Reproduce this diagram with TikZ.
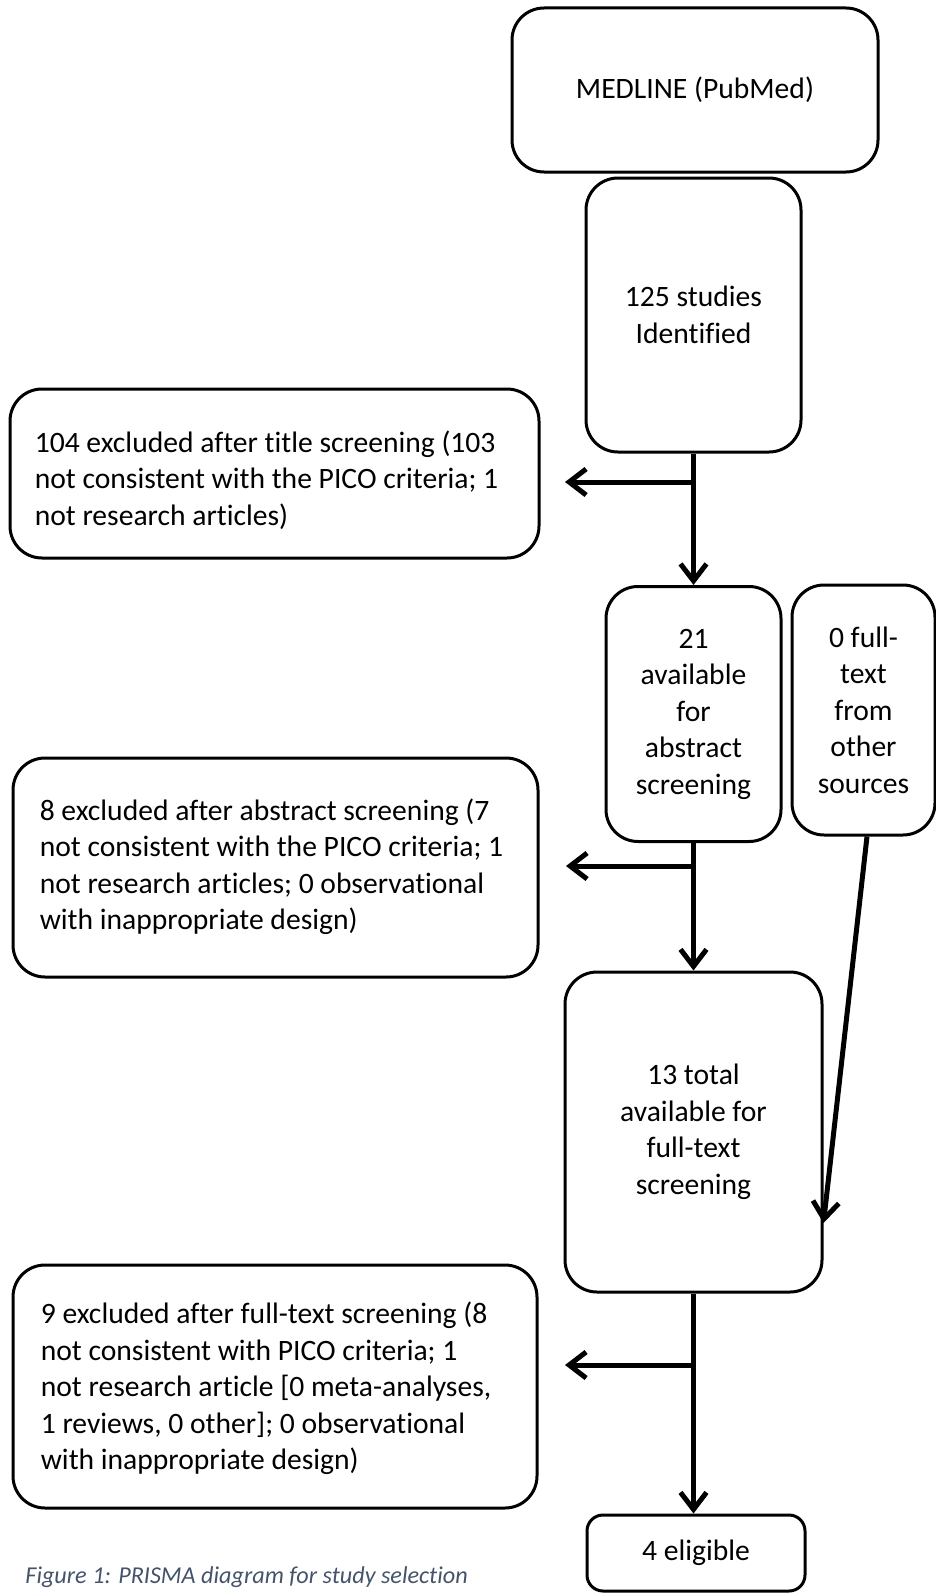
\documentclass[tikz,border=0pt]{standalone}
\usepackage{fontspec}
\setmainfont{Carlito}[Ligatures=NoCommon]
\usetikzlibrary{arrows.meta}
\definecolor{capcol}{HTML}{44546A}
\newcommand{\leftlines}[3]{\raisebox{-#2}[\height][\depth]{\begin{tabular}{@{}l@{}}#3\end{tabular}}\hspace*{#1}}
\begin{document}
\begin{tikzpicture}[x=0.5pt,y=-0.5pt,
  box/.style={draw, line width=1.5pt, rounded corners=16pt, font=\fontsize{14.8pt}{18.25pt}\selectfont, inner sep=0pt},
  cbox/.style={box, align=center},
  lbox/.style={box},
  conn/.style={line width=2.5pt, -{Straight Barb[length=8.5pt,width=13pt]}}
]
\useasboundingbox (0,0) rectangle (936,1595);
\node[cbox, minimum width=183pt, minimum height=82pt] (med) at (695,90) {MEDLINE (PubMed)};
\node[cbox, minimum width=107.5pt, minimum height=137pt] (s125) at (693.5,315) {125 studies\\Identified};
\node[lbox, minimum width=264.5pt, minimum height=84.5pt] (ex1) at (274.5,473.5) {\leftlines{8pt}{4pt}{104 excluded after title screening (103\\not consistent with the PICO criteria; 1\\not research articles)}};
\node[cbox, minimum width=87.5pt, minimum height=127.5pt] (s21) at (693.5,714) {21\\available\\for\\abstract\\screening};
\node[cbox, minimum width=71.5pt, minimum height=125pt] (oth) at (863.5,710) {0 full-\\text\\from\\other\\sources};
\node[lbox, minimum width=262.5pt, minimum height=109.5pt] (ex2) at (275.5,867.5) {\leftlines{4pt}{0pt}{8 excluded after abstract screening (7\\not consistent with the PICO criteria; 1\\not research articles; 0 observational\\with inappropriate design)}};
\node[cbox, minimum width=128.5pt, minimum height=160pt] (s13) at (693.5,1132) {13 total\\available for\\full-text\\screening};
\node[lbox, minimum width=262pt, minimum height=121.5pt] (ex3) at (275,1386.5) {\leftlines{9pt}{1.5pt}{9 excluded after full-text screening (8\\not consistent with PICO criteria; 1\\not research article [0 meta-analyses,\\1 reviews, 0 other]; 0 observational\\with inappropriate design)}};
\node[box, rounded corners=8pt, minimum width=109pt, minimum height=38pt] (elig) at (696,1553) {4 eligible};
\node[anchor=west, font=\fontsize{12.1pt}{14pt}\selectfont\itshape, text=capcol, inner sep=0pt] (cap) at (25,1577) {Figure 1: PRISMA diagram for study selection};
\coordinate (b1) at (693.5,482);
\coordinate (t1) at (565,482);
\coordinate (b2) at (693.5,866);
\coordinate (t2) at (566,866);
\coordinate (b3) at (693.5,1365);
\coordinate (t3) at (565,1365);
\draw[conn] (s125.south) -- (s21.north);
\draw[conn] (b1) -- (t1);
\draw[conn] (s21.south) -- (s13.north);
\draw[conn] (b2) -- (t2);
\draw[conn] (s13.south) -- (s13.south |- elig.north);
\draw[conn] (b3) -- (t3);
\draw[conn] ([xshift=1.75pt]oth.south) -- ([yshift=-45.5pt]s13.east);
\end{tikzpicture}
\end{document}
